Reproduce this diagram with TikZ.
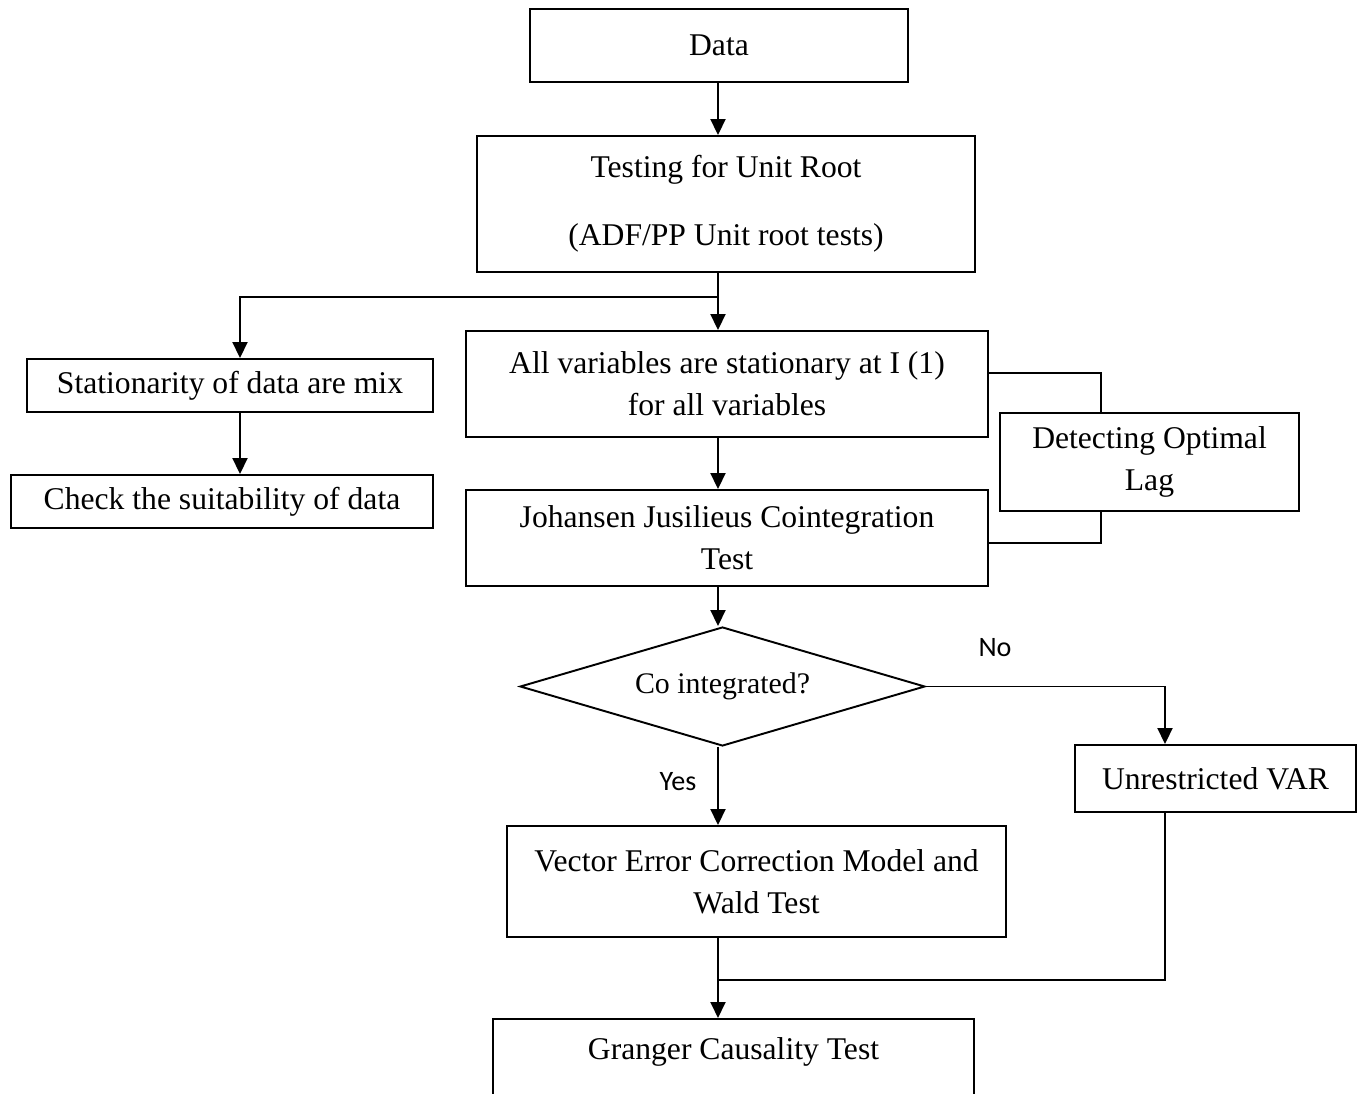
\documentclass[tikz,border=0pt]{standalone}
\usepackage{fontspec}
\setmainfont{Liberation Serif}
\newfontfamily\answerfont{Carlito}
\usepackage{tikz}
\usetikzlibrary{positioning, shapes.geometric, arrows.meta}

\begin{document}
\begin{tikzpicture}[x = 0.02cm, y = -0.02cm, line width = 1.1pt,
    box/.style = {draw, rectangle, inner sep = 0pt, align = center, font = \fontsize{18}{24}\selectfont},
    decision/.style = {draw, diamond, shape aspect = 3.4, inner sep = 0pt, font = \fontsize{17}{22}\selectfont},
    answer/.style = {font = \answerfont\fontsize{16}{19}\selectfont},
    >={Triangle[length = 0.32cm, width = 0.3cm]}]
      \useasboundingbox (0, 0) rectangle (1357, 1094);
      \clip (0, 0) rectangle (1357, 1094);

      \node[box, minimum width = 7.56cm, minimum height = 1.46cm] (data) at (719, 45.5) {Data};
      \node[box, minimum width = 9.96cm, minimum height = 2.72cm] (unit) at (726, 204) {Testing for Unit Root\\[14.7pt](ADF/PP Unit root tests)};
      \node[box, minimum width = 8.12cm, minimum height = 1.06cm] (stat) at (230, 385.5) {Stationarity of data are mix};
      \node[box, minimum width = 8.44cm, minimum height = 1.06cm] (check) at (222, 501.5) {Check the suitability of data};
      \node[box, minimum width = 10.44cm, minimum height = 2.12cm] (allvar) at (727, 384) {All variables are stationary at I (1)\\for all variables};
      \node[box, minimum width = 10.44cm, minimum height = 1.92cm] (johansen) at (727, 538) {Johansen Jusilieus Cointegration\\Test};
      \node[box, minimum width = 5.98cm, minimum height = 1.96cm] (lag) at (1149.5, 462) {Detecting Optimal\\Lag};
      \node[decision, minimum width = 8.1cm, minimum height = 2.38cm] (dia) at (722.5, 686.5) {Co integrated?};
      \node[box, minimum width = 5.62cm, minimum height = 1.34cm] (unres) at (1215.5, 778.5) {Unrestricted VAR};
      \node[box, minimum width = 9.98cm, minimum height = 2.22cm] (vecm) at (756.5, 881.5) {Vector Error Correction Model and\\Wald Test};
      \node[box, anchor = north, minimum width = 9.62cm, minimum height = 2.04cm] (granger) at (733.5, 1018) {Granger Causality Test\\~};

      \node[answer] (no) at (995, 648) {No};
      \node[answer] (yes) at (678, 782) {Yes};

      \coordinate (spine) at (718, 0);
      \coordinate (leftcol) at (240, 0);
      \coordinate (lagcol) at (1101, 0);
      \coordinate (varcol) at (1165, 0);
      \coordinate (split) at (718, 297);
      \coordinate (join) at (718, 980);

      \draw[->] (data.south -| spine) -- (unit.north -| spine);
      \draw[->] (unit.south -| spine) -- (allvar.north -| spine);
      \draw[->] (split) -| (stat.north -| leftcol);
      \draw[->] (stat.south -| leftcol) -- (check.north -| leftcol);

      \draw ([yshift = 0.22cm] allvar.east) -| (lag.north -| lagcol);
      \draw (lag.south -| lagcol) |- ([yshift = -0.1cm] johansen.east);
      \draw[->] (allvar.south -| spine) -- (johansen.north -| spine);
      \draw[->] (johansen.south -| spine) -- (dia.north -| spine);

      \draw[->] (dia.east) -| (unres.north -| varcol);
      \draw[->] (dia.south -| spine) -- (vecm.north -| spine);
      \draw[->] (vecm.south -| spine) -- (granger.north -| spine);
      \draw (unres.south -| varcol) |- (join);

    \end{tikzpicture}
\end{document}
